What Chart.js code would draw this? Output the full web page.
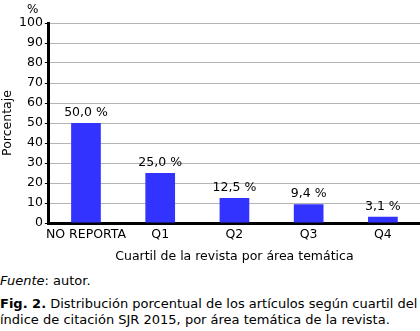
<!DOCTYPE html>
<html lang="es">
<head>
<meta charset="UTF-8">
<title>Fig. 2</title>
<script src="https://cdn.jsdelivr.net/npm/chart.js@4.4.1/dist/chart.umd.min.js"></script>
<style>
  body {
    margin: 0;
    width: 420px;
    height: 331px;
    background: #fff;
    font-family: "DejaVu Sans", Verdana, sans-serif;
    color: #000;
    overflow: hidden;
  }
  .wrap {
    position: relative;
    width: 420px;
    height: 268px;
  }
  .pct {
    position: absolute;
    left: 27px;
    top: 2px;
    font-size: 12px;
  }
  .fuente {
    position: absolute;
    left: 0;
    top: 273px;
    font-size: 13px;
  }
  .caption {
    position: absolute;
    left: 0;
    top: 296px;
    font-size: 13px;
    line-height: 16px;
    white-space: nowrap;
  }
</style>
</head>
<body>
<div class="wrap">
  <span class="pct">%</span>
  <canvas id="myChart"></canvas>
</div>
<div class="fuente"><i>Fuente</i>: autor.</div>
<div class="caption"><b>Fig. 2.</b> Distribución porcentual de los artículos según cuartil del<br>índice de citación SJR 2015, por área temática de la revista.</div>

<script>
const categories = ["NO REPORTA", "Q1", "Q2", "Q3", "Q4"];
const values = [50.0, 25.0, 12.5, 9.4, 3.1];
const valueLabels = ["50,0 %", "25,0 %", "12,5 %", "9,4 %", "3,1 %"];

const FONT = "'DejaVu Sans', Verdana, sans-serif";

// labels on top of each bar
const barLabels = {
  id: "barLabels",
  afterDatasetsDraw(chart) {
    const ctx = chart.ctx;
    ctx.save();
    ctx.font = "12.5px " + FONT;
    ctx.fillStyle = "#000";
    ctx.textAlign = "center";
    ctx.textBaseline = "bottom";
    chart.getDatasetMeta(0).data.forEach((bar, i) => {
      ctx.fillText(valueLabels[i], bar.x, bar.y - 4);
    });
    ctx.restore();
  }
};

new Chart("myChart", {
  type: "bar",
  data: {
    labels: categories,
    datasets: [{
      data: values,
      backgroundColor: "#3333ff",
      borderWidth: 0,
      barPercentage: 0.4,
      categoryPercentage: 1.0
    }]
  },
  options: {
    responsive: true,
    maintainAspectRatio: false,
    animation: false,
    layout: { padding: { top: 23, right: 0, left: 0, bottom: 4 } },
    plugins: {
      legend: { display: false },
      tooltip: { enabled: false }
    },
    scales: {
      x: {
        grid: { display: false, drawTicks: false },
        border: { color: "#000", width: 3 },
        ticks: { color: "#000", font: { family: FONT, size: 12.5 }, padding: 4, maxRotation: 0, autoSkip: false },
        title: {
          display: true,
          text: "Cuartil de la revista por área temática",
          color: "#000",
          font: { family: FONT, size: 12.5 },
          padding: { top: 3, bottom: 0 }
        }
      },
      y: {
        min: 0,
        max: 100,
        ticks: { stepSize: 10, color: "#000", font: { family: FONT, size: 12.5 }, padding: 2 },
        grid: { color: "#b4b4b4", lineWidth: 1, tickLength: 4, tickColor: "#000" },
        border: { color: "#000", width: 3 },
        title: {
          display: true,
          text: "Porcentaje",
          color: "#000",
          font: { family: FONT, size: 12.5 },
          padding: { top: 0, bottom: 2 }
        }
      }
    }
  },
  plugins: [barLabels]
});
</script>
</body>
</html>
